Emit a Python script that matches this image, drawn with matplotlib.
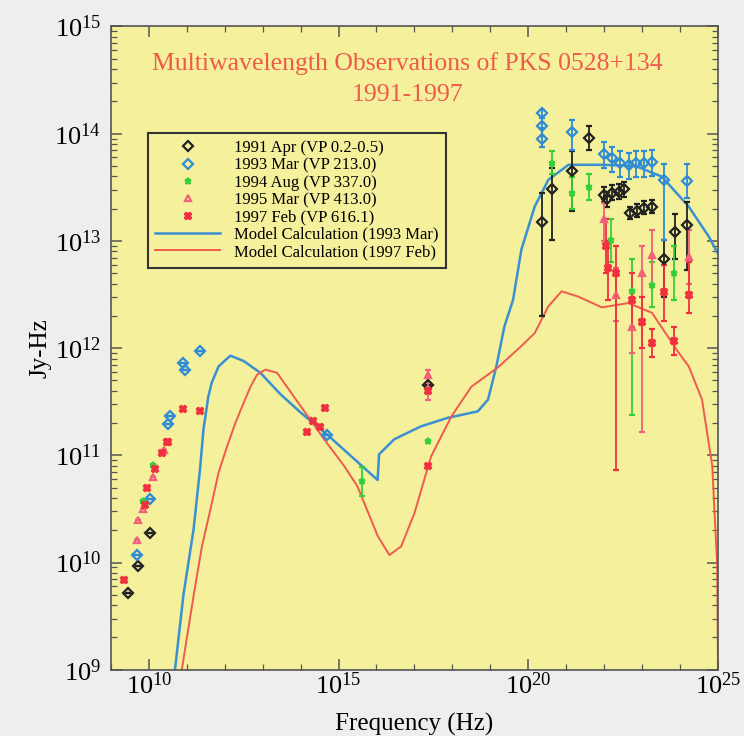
import numpy as np
import matplotlib
matplotlib.use("Agg")
import matplotlib.pyplot as plt
from matplotlib.lines import Line2D
from matplotlib.ticker import FixedLocator, FuncFormatter, LogLocator, NullFormatter

plt.rcParams['font.family'] = ['Liberation Serif', 'DejaVu Serif']
plt.rcParams['mathtext.fontset'] = 'custom'
plt.rcParams['mathtext.rm'] = 'Liberation Serif'

# values are log10(frequency / Hz) and log10(flux / Jy-Hz)
# lo / hi are the ends of the error bar (equal to the point when there is none)

# 1991 Apr (VP 0.2-0.5)
apr91_x = [9.46, 9.72, 10.03, 17.37, 20.36, 20.63, 21.16, 21.59, 21.99, 22.08, 22.21, 22.39, 22.52,
           22.69, 22.87, 23.04, 23.27, 23.57, 23.88, 24.19]
apr91_y = [9.72, 9.97, 10.28, 11.66, 13.18, 13.48, 13.65, 13.96, 13.43, 13.39, 13.45, 13.46, 13.48,
           13.26, 13.28, 13.31, 13.32, 12.83, 13.08, 13.15]
apr91_lo = [9.72, 9.97, 10.28, 11.66, 12.30, 13.01, 13.28, 13.85, 13.36, 13.32, 13.38, 13.39, 13.41,
            13.20, 13.22, 13.25, 13.26, 12.48, 12.83, 12.73]
apr91_hi = [9.72, 9.97, 10.28, 11.66, 13.45, 13.68, 13.84, 14.07, 13.50, 13.46, 13.52, 13.53, 13.55,
            13.32, 13.34, 13.37, 13.38, 13.01, 13.25, 13.36]

# 1993 Mar (VP 213.0)
mar93_x = [9.68, 10.03, 10.50, 10.56, 10.91, 10.95, 11.35, 14.69, 20.36, 20.36, 20.36, 21.16, 21.99,
           22.21, 22.43, 22.65, 22.83, 23.04, 23.27, 23.57, 24.19]
mar93_y = [10.07, 10.59, 11.29, 11.37, 11.86, 11.80, 11.97, 11.19, 14.19, 14.07, 13.95, 14.02, 13.81,
           13.77, 13.73, 13.71, 13.73, 13.73, 13.74, 13.57, 13.56]
mar93_lo = [10.07, 10.59, 11.29, 11.37, 11.86, 11.80, 11.97, 11.19, 14.10, 13.98, 13.88, 13.85, 13.68,
            13.64, 13.60, 13.58, 13.60, 13.60, 13.61, 13.01, 13.40]
mar93_hi = [10.07, 10.59, 11.29, 11.37, 11.86, 11.80, 11.97, 11.19, 14.22, 14.15, 14.05, 14.13, 13.92,
            13.88, 13.84, 13.82, 13.84, 13.84, 13.85, 13.72, 13.72]

# 1994 Aug (VP 337.0)
aug94_x = [9.85, 10.10, 15.61, 17.37, 20.63, 21.16, 21.59, 22.17, 22.74, 23.27, 23.84]
aug94_y = [10.57, 10.91, 10.76, 11.13, 13.73, 13.45, 13.50, 13.01, 12.53, 12.59, 12.70]
aug94_lo = [10.57, 10.91, 10.62, 11.13, 13.62, 13.30, 13.38, 12.80, 11.38, 12.38, 12.45]
aug94_hi = [10.57, 10.91, 10.89, 11.13, 13.84, 13.60, 13.62, 13.20, 12.83, 12.80, 12.95]

# 1995 Mar (VP 413.0)
mar95_x = [9.68, 9.72, 9.85, 10.10, 10.40, 17.37, 22.00, 22.30, 22.74, 23.00, 23.27, 24.23]
mar95_y = [10.21, 10.40, 10.50, 10.80, 11.05, 11.75, 13.20, 12.50, 12.20, 12.70, 12.87, 12.85]
mar95_lo = [10.21, 10.40, 10.50, 10.80, 11.05, 11.52, 13.00, 12.25, 11.95, 11.22, 12.60, 12.60]
mar95_hi = [10.21, 10.40, 10.50, 10.80, 11.05, 11.80, 13.35, 12.75, 12.45, 12.95, 13.10, 13.10]

# 1997 Feb (VP 616.1)
feb97_x = [9.34, 9.90, 9.94, 10.16, 10.34, 10.47, 10.51, 10.91, 11.35, 14.16, 14.34, 14.51, 14.65,
           17.37, 17.37, 22.05, 22.10, 22.30, 22.74, 23.00, 23.27, 23.57, 23.84, 24.23]
feb97_y = [9.84, 10.54, 10.70, 10.87, 11.02, 11.12, 11.12, 11.43, 11.41, 11.22, 11.32, 11.26, 11.44,
           11.60, 10.90, 12.95, 12.75, 12.70, 12.45, 12.24, 12.05, 12.52, 12.07, 12.50]
feb97_lo = [9.84, 10.54, 10.70, 10.87, 11.02, 11.12, 11.12, 11.43, 11.41, 11.22, 11.32, 11.26, 11.44,
            11.60, 10.90, 12.70, 12.45, 10.86, 12.20, 12.00, 11.92, 12.25, 11.94, 12.33]
feb97_hi = [9.84, 10.54, 10.70, 10.87, 11.02, 11.12, 11.12, 11.43, 11.41, 11.22, 11.32, 11.26, 11.44,
            11.60, 10.90, 13.20, 13.00, 12.95, 12.70, 12.48, 12.18, 12.78, 12.20, 12.80]

# model curves
model93_x = [10.69, 10.91, 11.18, 11.35, 11.44, 11.57, 11.66, 11.84, 12.15, 12.50, 12.94, 13.47, 14.00,
             14.71, 16.03, 16.07, 16.47, 17.17, 17.88, 18.67, 18.94, 19.16, 19.37, 19.60, 19.82, 20.17,
             20.53, 21.06, 21.94, 22.82, 23.52, 24.23, 24.76, 25.00]
model93_y = [9.00, 9.69, 10.31, 10.87, 11.24, 11.55, 11.68, 11.83, 11.93, 11.88, 11.77, 11.57, 11.40,
             11.19, 10.77, 11.01, 11.15, 11.27, 11.35, 11.41, 11.52, 11.83, 12.20, 12.45, 12.92, 13.32,
             13.57, 13.71, 13.71, 13.70, 13.60, 13.32, 13.04, 12.88]

model97_x = [10.87, 11.18, 11.40, 11.62, 11.84, 12.06, 12.28, 12.50, 12.68, 12.85, 13.07, 13.38, 14.00,
             14.62, 15.15, 15.50, 16.03, 16.34, 16.65, 17.00, 17.44, 17.97, 18.50, 19.20, 19.82, 20.17,
             20.53, 20.88, 21.32, 21.94, 22.64, 23.26, 23.96, 24.23, 24.58, 24.85, 24.98, 25.00]
model97_y = [9.00, 9.69, 10.15, 10.49, 10.84, 11.08, 11.30, 11.49, 11.64, 11.75, 11.80, 11.77, 11.46,
             11.15, 10.90, 10.71, 10.25, 10.07, 10.15, 10.46, 10.99, 11.36, 11.64, 11.82, 12.02, 12.14,
             12.39, 12.53, 12.48, 12.38, 12.42, 12.33, 11.96, 11.83, 11.52, 10.90, 9.97, 9.00]

series = [
    ("1991 Apr (VP 0.2-0.5)", apr91_x, apr91_y, apr91_lo, apr91_hi, "#222222", "D", "none"),
    ("1993 Mar (VP 213.0)", mar93_x, mar93_y, mar93_lo, mar93_hi, "#2e8bd6", "D", "none"),
    ("1994 Aug (VP 337.0)", aug94_x, aug94_y, aug94_lo, aug94_hi, "#36cf3a", "*", "#36cf3a"),
    ("1995 Mar (VP 413.0)", mar95_x, mar95_y, mar95_lo, mar95_hi, "#f2607a", "^", "none"),
    ("1997 Feb (VP 616.1)", feb97_x, feb97_y, feb97_lo, feb97_hi, "#f0303e", "X", "#f0303e"),
]

fig = plt.figure(figsize=(7.44, 7.36), dpi=100, facecolor="#eeeeee")
ax = fig.add_axes([0.149, 0.09, 0.816, 0.874])
ax.set_facecolor("#f4f09c")

handles = []
for label, lx, ly, lo, hi, col, mk, fc in series:
    x = 10 ** np.array(lx)
    y = 10 ** np.array(ly)
    err = [y - 10 ** np.array(lo), 10 ** np.array(hi) - y]
    ax.errorbar(x, y, yerr=err, fmt=mk, color=col, mfc=fc, mec=col, ms=5, mew=1.6,
                elinewidth=1.3, capsize=2.5, capthick=1.2, zorder=3)
    handles.append(Line2D([], [], ls="none", marker=mk, color=col, mfc=fc, mec=col,
                          ms=5, mew=1.6, label=label))

l93, = ax.plot(10 ** np.array(model93_x), 10 ** np.array(model93_y), color="#3a90d2", lw=1.8,
               label="Model Calculation (1993 Mar)", zorder=2)
l97, = ax.plot(10 ** np.array(model97_x), 10 ** np.array(model97_y), color="#f05a4e", lw=1.4,
               label="Model Calculation (1997 Feb)", zorder=2)
handles += [l93, l97]

ax.set_xscale("log")
ax.set_yscale("log")
ax.set_xlim(1e9, 1e25)
ax.set_ylim(1e9, 1e15)

fmt = FuncFormatter(lambda v, _: r"$\mathregular{10^{%d}}$" % round(np.log10(v)))
ax.xaxis.set_major_locator(FixedLocator([1e10, 1e15, 1e20, 1e25]))
ax.xaxis.set_minor_locator(FixedLocator([10.0 ** k for k in range(9, 26)]))
ax.xaxis.set_major_formatter(fmt)
ax.xaxis.set_minor_formatter(NullFormatter())
ax.yaxis.set_major_locator(FixedLocator([10.0 ** k for k in range(9, 16)]))
ax.yaxis.set_minor_locator(LogLocator(base=10, subs=np.arange(2, 10), numticks=50))
ax.yaxis.set_major_formatter(fmt)
ax.yaxis.set_minor_formatter(NullFormatter())

ax.tick_params(which="both", direction="in", top=True, right=True, color="#555555",
               labelsize=19)
ax.tick_params(which="major", length=8, width=1.1)
ax.tick_params(which="minor", length=4, width=0.9)
ax.tick_params(axis="x", pad=2)
ax.tick_params(axis="y", pad=7)
for s in ax.spines.values():
    s.set_color("#555555")
    s.set_linewidth(1.2)

ax.set_xlabel("Frequency (Hz)", fontsize=18, labelpad=10)
ax.set_ylabel("Jy-Hz", fontsize=18, labelpad=2)

ax.text(0.488, 0.942, "Multiwavelength Observations of PKS 0528+134",
        transform=ax.transAxes, ha="center", va="center", color="#f05a4a", fontsize=18.5)
ax.text(0.488, 0.893, "1991-1997",
        transform=ax.transAxes, ha="center", va="center", color="#f05a4a", fontsize=18.5)

leg = ax.legend(handles=handles, loc="upper left", bbox_to_anchor=(0.061, 0.835), borderaxespad=0,
                fontsize=12, labelspacing=0.08, handlelength=3.9, handletextpad=0.8,
                borderpad=0.45, fancybox=False, framealpha=1, facecolor="#f4f09c",
                edgecolor="#333333", numpoints=1)
leg.get_frame().set_linewidth(1.5)

fig.savefig("out.png", dpi=100, facecolor=fig.get_facecolor())
